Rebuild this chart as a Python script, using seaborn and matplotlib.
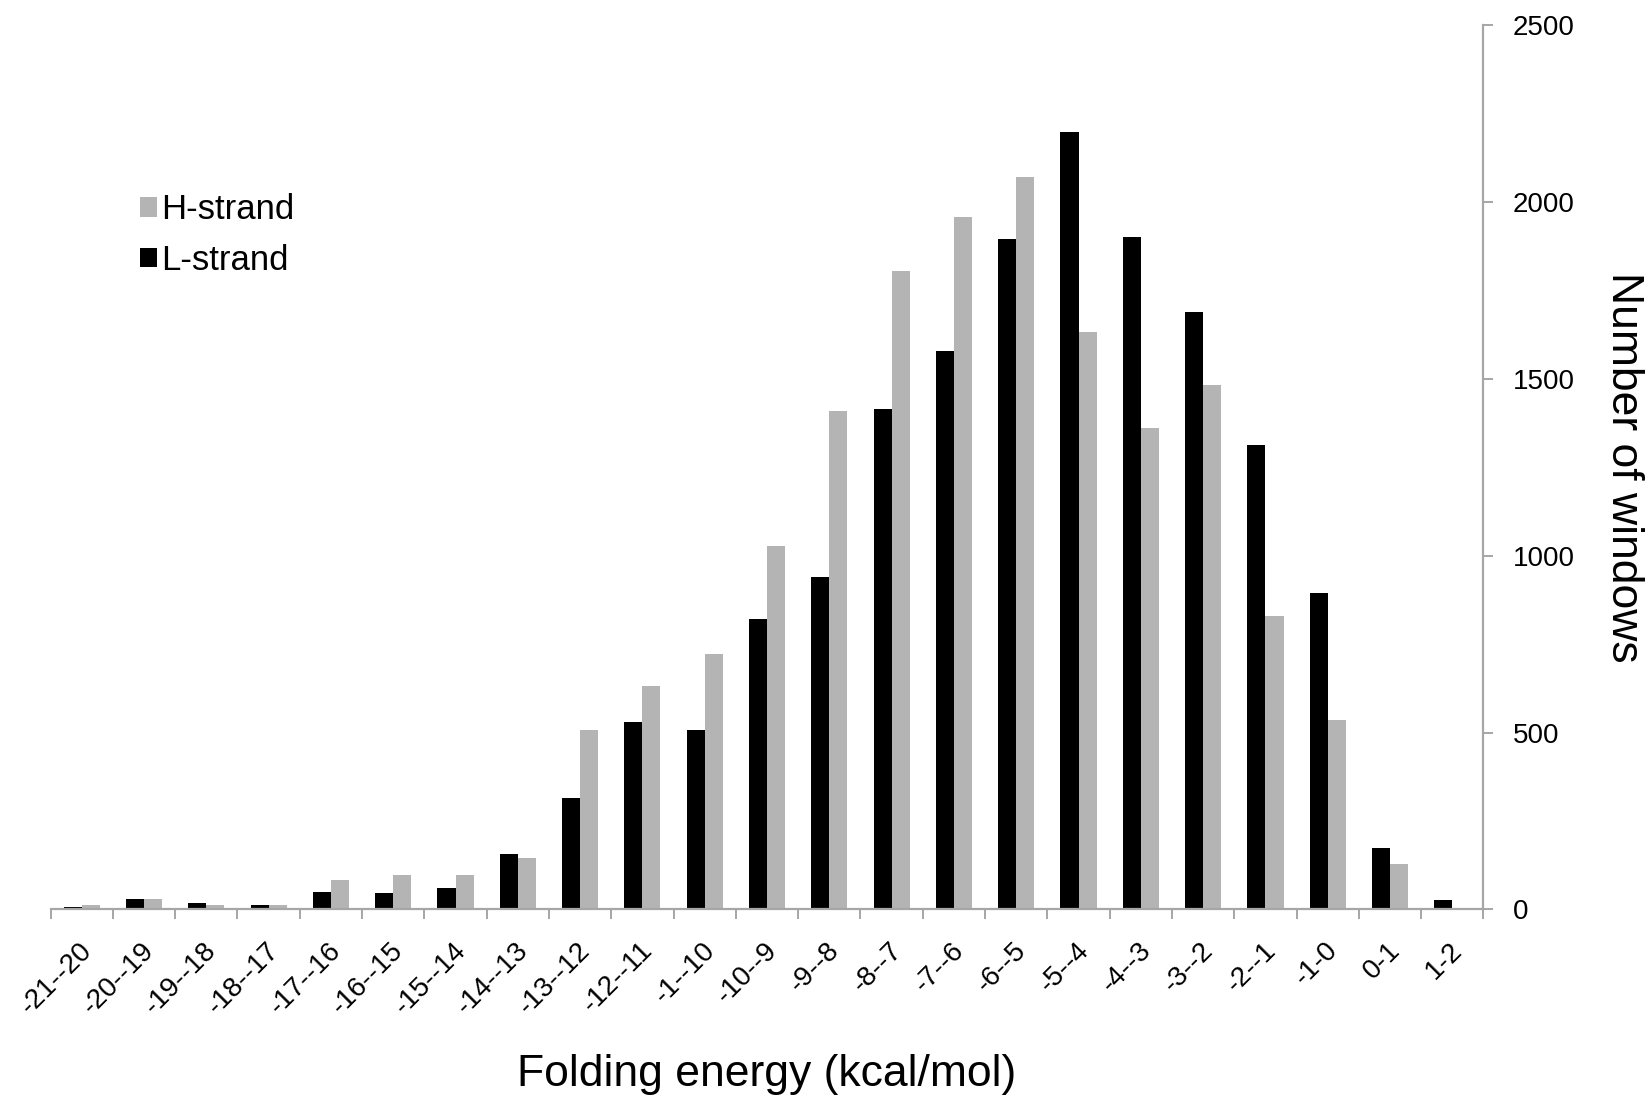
import matplotlib
matplotlib.use("Agg")
import matplotlib.pyplot as plt
import matplotlib.transforms as mtransforms
from matplotlib.ticker import FixedLocator, NullFormatter
import pandas as pd
import seaborn as sns

# Folding-energy bins (kcal/mol)
bins = ["-21--20", "-20--19", "-19--18", "-18--17", "-17--16", "-16--15",
        "-15--14", "-14--13", "-13--12", "-12--11", "-1--10", "-10--9",
        "-9--8", "-8--7", "-7--6", "-6--5", "-5--4", "-4--3", "-3--2",
        "-2--1", "-1-0", "0-1", "1-2"]

# Window counts per bin
l_strand = [7, 28, 18, 12, 50, 45, 61, 156, 316, 530, 507, 822,
            939, 1415, 1579, 1895, 2199, 1901, 1690, 1314, 894, 174, 27]
h_strand = [11, 28, 11, 11, 82, 98, 98, 145, 507, 632, 721, 1028,
            1410, 1806, 1958, 2071, 1633, 1362, 1484, 829, 536, 128, 0]

strands = ["L-strand", "H-strand"]
colors = {"L-strand": "#000000", "H-strand": "#b4b4b4"}

df = pd.DataFrame({
    "bin": bins * 2,
    "strand": ["L-strand"] * len(bins) + ["H-strand"] * len(bins),
    "count": l_strand + h_strand,
})

sns.set_theme(style="white")
plt.rcParams["font.family"] = ["Liberation Sans", "DejaVu Sans"]
plt.rcParams["text.color"] = "black"
plt.rcParams["axes.labelcolor"] = "black"
plt.rcParams["xtick.labelcolor"] = "black"
plt.rcParams["ytick.labelcolor"] = "black"

fig = plt.figure(figsize=(16.52, 10.99), dpi=100)
ax = fig.add_axes([0.0306, 0.1726, 0.8674, 0.8044])

sns.barplot(data=df, x="bin", y="count", hue="strand", hue_order=strands,
            order=bins, palette=colors, width=0.58, saturation=1,
            errorbar=None, ax=ax, gap=0, linewidth=0)

axis_grey = "#a6a6a6"
ax.set_xlim(-0.5, len(bins) - 0.5)
ax.set_ylim(0, 2500)

for side in ["top", "left"]:
    ax.spines[side].set_visible(False)
for side in ["bottom", "right"]:
    ax.spines[side].set_color(axis_grey)
    ax.spines[side].set_linewidth(1.6)

# y axis on the right
ax.yaxis.tick_right()
ax.yaxis.set_label_position("right")
ax.set_yticks([0, 500, 1000, 1500, 2000, 2500])
ax.tick_params(axis="y", which="major", direction="out", length=7,
               width=1.4, color=axis_grey, labelsize=20, pad=14,
               right=True, left=False, labelcolor="black")
ax.set_ylabel("Number of windows", fontsize=32, rotation=270, color="black")
ax.yaxis.set_label_coords(1.112, 0.5)

# x axis: labels at bin centres, tick marks at bin boundaries
ax.set_xticks(range(len(bins)))
ax.set_xticklabels(bins, rotation=45, ha="right", rotation_mode="anchor",
                   fontsize=20, color="black")
ax.tick_params(axis="x", which="major", length=0, pad=20)
ax.xaxis.set_minor_locator(FixedLocator([i - 0.5 for i in range(len(bins) + 1)]))
ax.xaxis.set_minor_formatter(NullFormatter())
ax.tick_params(axis="x", which="minor", direction="out", length=7,
               width=1.4, color=axis_grey, bottom=True)
shift = mtransforms.ScaledTranslation(-2 / 72, 0, fig.dpi_scale_trans)
for lbl in ax.get_xticklabels():
    lbl.set_transform(lbl.get_transform() + shift)

ax.set_xlabel("Folding energy (kcal/mol)", fontsize=32, color="black")
ax.xaxis.set_label_coords(0.5, -0.164)

# legend: H-strand listed first
handles, labels = ax.get_legend_handles_labels()
lookup = dict(zip(labels, handles))
ax.legend([lookup["H-strand"], lookup["L-strand"]], ["H-strand", "L-strand"],
          loc="upper left", bbox_to_anchor=(0.0848, 0.824),
          bbox_transform=fig.transFigure, frameon=False, fontsize=25,
          handlelength=0.48, handleheight=0.48, handletextpad=0.12,
          labelspacing=0.5, borderaxespad=0, borderpad=0)

fig.savefig("out.png", dpi=100)
